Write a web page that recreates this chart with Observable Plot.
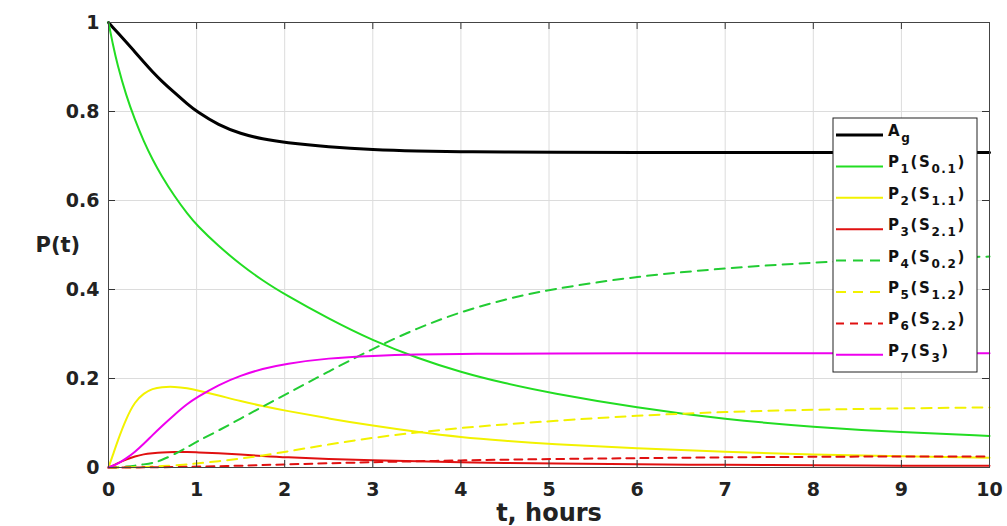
<!DOCTYPE html>
<html><head><meta charset="utf-8">
<script src="https://cdn.jsdelivr.net/npm/d3@7"></script>
<script src="https://cdn.jsdelivr.net/npm/@observablehq/plot@0.6"></script>
<style>
html,body{margin:0;padding:0;background:#fff;}
#chart{position:relative;width:1007px;height:526px;overflow:hidden;}
#legend{position:absolute;left:0;top:0;pointer-events:none;}
</style></head><body><div id="chart"></div>
<script>
// time points (hours)
const t  = [0,0.05,0.1,0.2,0.3,0.4,0.5,0.6,0.75,0.9,1,1.25,1.5,1.75,2,2.5,3,3.5,4,4.5,5,6,7,8,9,10];
const Ag = [1,0.989,0.978,0.956,0.934,0.911,0.889,0.869,0.842,0.816,0.8,0.769,0.75,0.738,0.73,0.72,0.714,0.711,0.7095,0.7088,0.7084,0.708,0.708,0.708,0.708,0.708];
const P1 = [1,0.95,0.906,0.836,0.781,0.733,0.692,0.656,0.609,0.569,0.545,0.497,0.456,0.42,0.389,0.334,0.285,0.246,0.214,0.189,0.168,0.134,0.108,0.091,0.079,0.071];
const P2 = [0,0.028,0.058,0.11,0.148,0.167,0.177,0.181,0.182,0.178,0.174,0.162,0.149,0.138,0.128,0.11,0.094,0.08,0.068,0.06,0.053,0.043,0.035,0.029,0.025,0.022];
const P3 = [0,0.004,0.009,0.018,0.025,0.03,0.032,0.034,0.035,0.035,0.034,0.032,0.029,0.026,0.023,0.019,0.016,0.014,0.012,0.01,0.009,0.007,0.006,0.005,0.004,0.004];
const P4 = [0,0,0.0005,0.002,0.004,0.007,0.01,0.016,0.03,0.046,0.058,0.083,0.11,0.137,0.163,0.216,0.267,0.313,0.35,0.378,0.4,0.43,0.448,0.461,0.469,0.474];
const P5 = [0,0,0,0.0003,0.0007,0.0012,0.002,0.003,0.005,0.007,0.009,0.014,0.02,0.027,0.035,0.052,0.067,0.079,0.089,0.097,0.104,0.117,0.125,0.13,0.133,0.135];
const P6 = [0,0,0,0.0001,0.0002,0.0003,0.0005,0.0007,0.001,0.0015,0.002,0.003,0.004,0.0055,0.007,0.0095,0.012,0.014,0.016,0.0175,0.019,0.021,0.023,0.024,0.025,0.025];
const P7 = [0,0.004,0.008,0.02,0.035,0.053,0.073,0.092,0.119,0.144,0.157,0.186,0.207,0.222,0.233,0.246,0.251,0.254,0.255,0.256,0.256,0.257,0.257,0.257,0.257,0.257];

const seriesNames  = ["Ag","P1","P2","P3","P4","P5","P6","P7"];
const seriesColors = ["#000000","#22dd22","#f2f200","#e01010","#22cc33","#f2f200","#e01010","#ee00ee"];
const seriesDash   = [null,null,null,null,"10,7","10,7","8,6",null];
const seriesWidth  = [3,2,2,2,2,2,2,2];
const legendLabels = [
  [["A",0],["g",1]],
  [["P",0],["1",1],["(S",0],["0.1",1],[")",0]],
  [["P",0],["2",1],["(S",0],["1.1",1],[")",0]],
  [["P",0],["3",1],["(S",0],["2.1",1],[")",0]],
  [["P",0],["4",1],["(S",0],["0.2",1],[")",0]],
  [["P",0],["5",1],["(S",0],["1.2",1],[")",0]],
  [["P",0],["6",1],["(S",0],["2.2",1],[")",0]],
  [["P",0],["7",1],["(S",0],["3",1],[")",0]]
];
const xTicks = [0,1,2,3,4,5,6,7,8,9,10];
const yTicks = [0,0.2,0.4,0.6,0.8,1];
const yTickLabels = ["0","0.2","0.4","0.6","0.8","1"];
const xLabel = "t, hours";
const yLabel = "P(t)";

const values = [Ag,P1,P2,P3,P4,P5,P6,P7];
const rows = [];
values.forEach((v,k) => v.forEach((p,i) => rows.push({t: t[i], p, s: seriesNames[k]})));

const lineMarks = seriesNames.map((name,k) => Plot.line(rows.filter(r => r.s === name), {
  x: "t", y: "p", stroke: seriesColors[k], strokeWidth: seriesWidth[k],
  strokeDasharray: seriesDash[k] || undefined, curve: "basis"
}));

const W = 1007, H = 526, mL = 108, mR = 18, mT = 22, mB = 59;
const innerW = W - mL - mR, innerH = H - mT - mB, tickLen = 7;

const chart = Plot.plot({
  width: W, height: H, marginLeft: mL, marginRight: mR, marginTop: mT, marginBottom: mB,
  style: {fontFamily: "'DejaVu Sans', sans-serif", fontWeight: "bold", background: "#fff", color: "#222"},
  x: {domain: [0,10]},
  y: {domain: [0,1]},
  marks: [
    Plot.gridX(xTicks, {stroke: "#dcdcdc", strokeOpacity: 1}),
    Plot.gridY(yTicks, {stroke: "#dcdcdc", strokeOpacity: 1}),
    ...lineMarks,
    Plot.tickX(xTicks, {x: d => d, insetTop: innerH - tickLen, stroke: "#333"}),
    Plot.tickX(xTicks, {x: d => d, insetBottom: innerH - tickLen, stroke: "#333"}),
    Plot.tickY(yTicks, {y: d => d, insetRight: innerW - tickLen, stroke: "#333"}),
    Plot.tickY(yTicks, {y: d => d, insetLeft: innerW - tickLen, stroke: "#333"}),
    Plot.frame({stroke: "#444"}),
    Plot.axisX(xTicks, {tickSize: 0, tickPadding: 15, fontSize: 19, label: null, tickFormat: d => String(d)}),
    Plot.axisY(yTicks, {tickSize: 0, tickPadding: 9, fontSize: 19, label: null, tickFormat: d => yTickLabels[yTicks.indexOf(d)]}),
    Plot.text([xLabel], {text: d => d, frameAnchor: "bottom", dy: 53, fontSize: 24, fontWeight: "bold"}),
    Plot.text([yLabel], {text: d => d, frameAnchor: "left", dx: -73, fontSize: 21, fontWeight: "bold"})
  ]
});
const host = document.getElementById("chart");
host.appendChild(chart);

// legend (inside the axes, top right)
const leg = d3.create("svg").attr("id","legend").attr("width",W).attr("height",H)
  .style("font-family","'DejaVu Sans', sans-serif").style("font-weight","bold");
const bx = 833, by = 118, bw = 144, bh = 254, rowStep = 31.4, row0 = by + 17;
leg.append("rect").attr("x",bx).attr("y",by).attr("width",bw).attr("height",bh)
  .attr("fill","#fff").attr("stroke","#222").attr("stroke-width",1);
seriesNames.forEach((name,k) => {
  const yy = row0 + k*rowStep;
  leg.append("line").attr("x1",bx+3).attr("x2",bx+50).attr("y1",yy).attr("y2",yy)
    .attr("stroke",seriesColors[k]).attr("stroke-width",seriesWidth[k])
    .attr("stroke-dasharray",seriesDash[k] || null);
  const tx = leg.append("text").attr("x",bx+55).attr("y",yy+1).attr("fill","#111")
    .style("letter-spacing","1.6px");
  let prevSub = 0;
  legendLabels[k].forEach(([s,sub]) => {
    const dy = sub && !prevSub ? 6 : (!sub && prevSub ? -6 : 0);
    tx.append("tspan").attr("dy",dy).attr("font-size", sub ? 12 : 15).text(s);
    prevSub = sub;
  });
});
host.appendChild(leg.node());
</script>
</body></html>
